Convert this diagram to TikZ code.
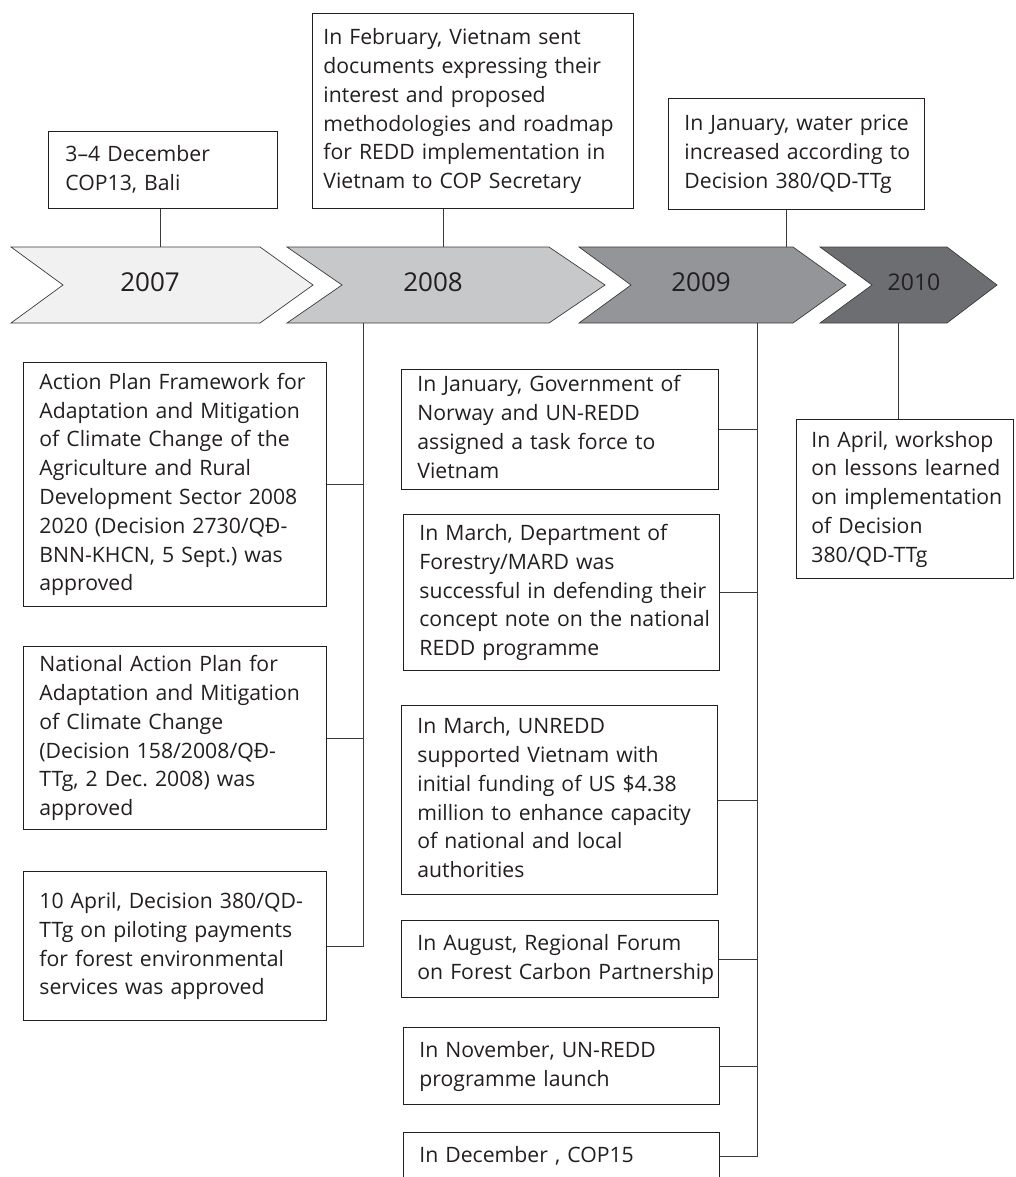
\documentclass[tikz,border=0pt]{standalone}
\usepackage{fontspec}
\setmainfont{Open Sans}
\frenchspacing
\definecolor{boxline}{HTML}{231F20}
\definecolor{linkc}{HTML}{3A3A3A}
\definecolor{chevline}{HTML}{3C3C3C}
\definecolor{txt}{HTML}{231F20}
\definecolor{c07}{HTML}{F1F1F2}
\definecolor{c08}{HTML}{C7C8CA}
\definecolor{c09}{HTML}{939598}
\definecolor{c10}{HTML}{6D6E71}
\newcommand\evfont{\fontsize{21.2}{28.8}\selectfont}
\newcommand\yrfont{\fontsize{26}{32}\selectfont}
\newcommand\evlines[1]{\begin{tabular}{@{}l@{}}#1\end{tabular}}
\begin{document}
\begin{tikzpicture}[x=1pt,y=-1pt,
  evbox/.style={draw=boxline, line width=0.8pt, fill=white, anchor=north west,
    align=left, inner xsep=16pt, inner ysep=0pt, font=\evfont, text=txt},
  chev/.style={draw=chevline, line width=0.7pt},
  link/.style={draw=linkc, line width=0.8pt},
  yearlbl/.style={font=\yrfont, inner sep=0pt, text=txt}]
\useasboundingbox (0,0) rectangle (1015,1177);

% chevrons
\draw[chev, fill=c07] (11,247) -- (260,247) -- (313,285) -- (260,323) -- (11,323) -- (63,285) -- cycle;
\draw[chev, fill=c08] (287,247) -- (549,247) -- (605,285) -- (549,323) -- (287,323) -- (342,285) -- cycle;
\draw[chev, fill=c09] (579,247) -- (793,247) -- (846,285) -- (793,323) -- (579,323) -- (631,285) -- cycle;
\draw[chev, fill=c10] (820,247) -- (947,247) -- (997,285) -- (947,323) -- (820,323) -- (872,285) -- cycle;

\node[yearlbl] (y07) at (150,282) {2007};
\node[yearlbl] (y08) at (433,282) {2008};
\node[yearlbl] (y09) at (701,282) {2009};
\node[yearlbl, font=\fontsize{23}{26}\selectfont] (y10) at (914,282) {2010};

\coordinate (t07) at (160,247);
\coordinate (t08) at (443,247);
\coordinate (t09) at (786,247);
\coordinate (d08) at (363,323);
\coordinate (d09) at (757,323);
\coordinate (d10) at (898,323);

% top boxes
\node[evbox, inner xsep=17pt, text width=195pt, minimum height=77pt] (b07) at (48,131)
  {\evlines{3–4 December\\COP13, Bali}};
\node[evbox, inner xsep=11pt, text width=299pt, minimum height=195pt] (b08) at (312,13)
  {\evlines{In February, Vietnam sent\\documents expressing their\\interest and proposed\\methodologies and roadmap\\for REDD implementation in\\Vietnam to COP Secretary}};
\node[evbox, text width=224pt, minimum height=111pt] (b09) at (668,98)
  {\evlines{In January, water price\\increased according to\\Decision 380/QD-TTg}};

% 2008 column
\node[evbox, text width=271pt, minimum height=244pt] (a1) at (23,362)
  {\evlines{Action Plan Framework for\\Adaptation and Mitigation\\of Climate Change of the\\Agriculture and Rural\\Development Sector 2008\\2020 (Decision 2730/QĐ-\\BNN-KHCN, 5 Sept.) was\\approved}};
\node[evbox, text width=271pt, minimum height=183pt] (a2) at (23,646)
  {\evlines{National Action Plan for\\Adaptation and Mitigation\\of Climate Change\\(Decision 158/2008/QĐ-\\TTg, 2 Dec. 2008) was\\approved}};
\node[evbox, text width=271pt, minimum height=149pt] (a3) at (23,871)
  {\evlines{10 April, Decision 380/QD-\\TTg on piloting payments\\for forest environmental\\services was approved}};

% 2009 column
\node[evbox, text width=285pt, minimum height=120pt] (m1) at (401,369)
  {\evlines{In January, Government of\\Norway and UN-REDD\\assigned a task force to\\Vietnam}};
\node[evbox, text width=284pt, minimum height=156pt] (m2) at (403,514)
  {\evlines{In March, Department of\\Forestry/MARD was\\successful in defending their\\concept note on the national\\REDD programme}};
\node[evbox, text width=284pt, minimum height=189pt] (m3) at (401,705)
  {\evlines{In March, UNREDD\\supported Vietnam with\\initial funding of US \$4.38\\million to enhance capacity\\of national and local\\authorities}};
\node[evbox, text width=285pt, minimum height=77pt] (m4) at (401,920)
  {\evlines{In August, Regional Forum\\on Forest Carbon Partnership}};
\node[evbox, text width=284pt, minimum height=77pt] (m5) at (403,1027)
  {\evlines{In November, UN-REDD\\programme launch}};
\node[evbox, text width=284pt, minimum height=48pt] (m6) at (403,1132)
  {\evlines{In December , COP15}};

% 2010
\node[evbox, inner xsep=15pt, text width=187pt, minimum height=159pt] (r1) at (796,419)
  {\evlines{In April, workshop\\on lessons learned\\on implementation\\of Decision\\380/QD-TTg}};

% connectors
\draw[link] (t07 |- b07.south) -- (t07);
\draw[link] (t08 |- b08.south) -- (t08);
\draw[link] (t09 |- b09.south) -- (t09);
\draw[link] (d08) |- (a1.east);
\draw[link] (d08) |- (a2.east);
\draw[link] (d08) |- (a3.east);
\draw[link] (d09) |- (m1.east);
\draw[link] (d09) |- (m2.east);
\draw[link] (d09) |- (m3.east);
\draw[link] (d09) |- (m4.east);
\draw[link] (d09) |- (m5.east);
\draw[link] (d09) |- (m6.east);
\draw[link] (d10) -- (d10 |- r1.north);
\end{tikzpicture}
\end{document}
